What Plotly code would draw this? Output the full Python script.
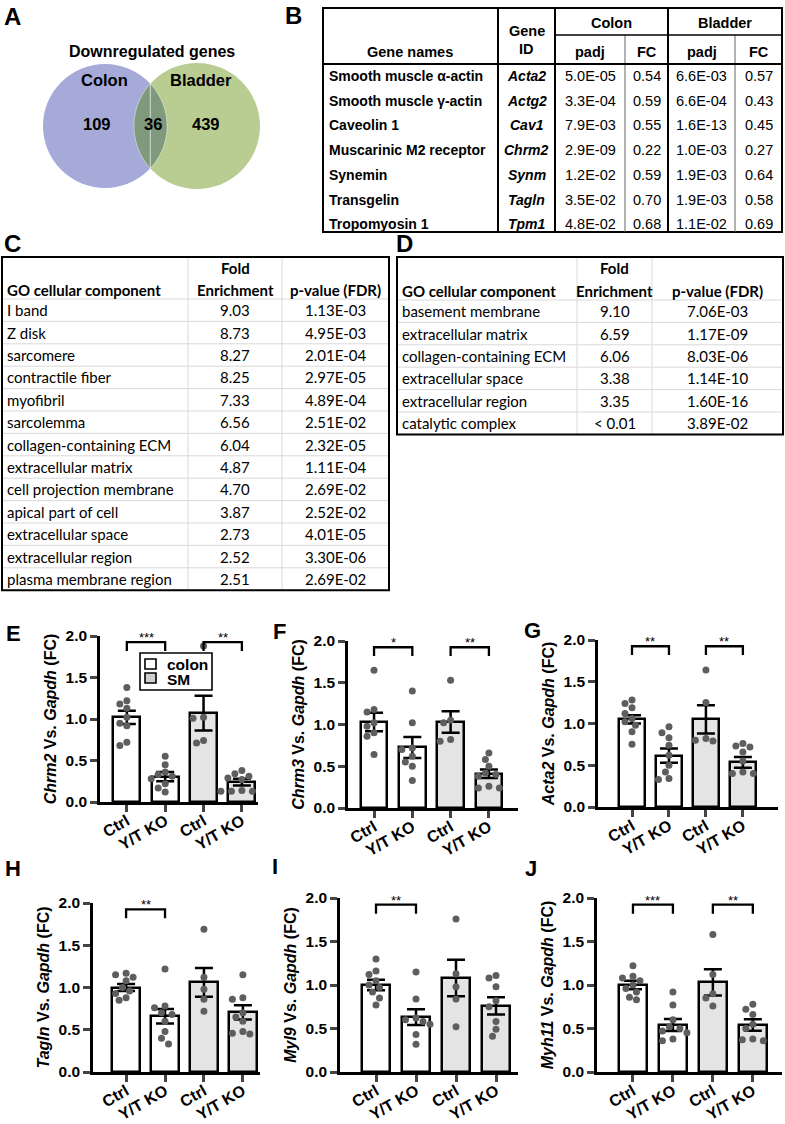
import math
import plotly.graph_objects as go

W, H = 785, 1124
ARIAL = "Liberation Sans, Arial, sans-serif"
CALIBRI = "Lato, sans-serif"

# ---------------- data ----------------
venn_title = "Downregulated genes"
venn_sets = ["Colon", "Bladder"]
venn_counts = [109, 36, 439]  # colon only, shared, bladder only

b_gene_names = ["Smooth muscle α-actin", "Smooth muscle γ-actin", "Caveolin 1",
                "Muscarinic M2 receptor", "Synemin", "Transgelin", "Tropomyosin 1"]
b_gene_ids = ["Acta2", "Actg2", "Cav1", "Chrm2", "Synm", "Tagln", "Tpm1"]
b_colon_padj = [5.0e-05, 3.3e-04, 7.9e-03, 2.9e-09, 1.2e-02, 3.5e-02, 4.8e-02]
b_colon_fc = [0.54, 0.59, 0.55, 0.22, 0.59, 0.70, 0.68]
b_bladder_padj = [6.6e-03, 6.6e-04, 1.6e-13, 1.0e-03, 1.9e-03, 1.9e-03, 1.1e-02]
b_bladder_fc = [0.57, 0.43, 0.45, 0.27, 0.64, 0.58, 0.69]

c_terms = ["I band", "Z disk", "sarcomere", "contractile fiber", "myofibril", "sarcolemma",
           "collagen-containing ECM", "extracellular matrix", "cell projection membrane",
           "apical part of cell", "extracellular space", "extracellular region",
           "plasma membrane region"]
c_fold = [9.03, 8.73, 8.27, 8.25, 7.33, 6.56, 6.04, 4.87, 4.70, 3.87, 2.73, 2.52, 2.51]
c_pval = [1.13e-03, 4.95e-03, 2.01e-04, 2.97e-05, 4.89e-04, 2.51e-02, 2.32e-05, 1.11e-04,
          2.69e-02, 2.52e-02, 4.01e-05, 3.30e-06, 2.69e-02]

d_terms = ["basement membrane", "extracellular matrix", "collagen-containing ECM",
           "extracellular space", "extracellular region", "catalytic complex"]
d_fold = [9.10, 6.59, 6.06, 3.38, 3.35, "< 0.01"]
d_pval = [7.06e-03, 1.17e-09, 8.03e-06, 1.14e-10, 1.60e-16, 3.89e-02]

bar_groups = ["Ctrl", "Y/T KO", "Ctrl", "Y/T KO"]
legend_names = ["colon", "SM"]

chrm2_mean = [1.02, 0.305, 1.07, 0.24]
chrm2_sem = [0.08, 0.055, 0.21, 0.04]
chrm2_points = [[1.38, 1.22, 1.18, 1.13, 1.02, 0.95, 0.92, 0.72, 0.68],
                [0.55, 0.45, 0.36, 0.33, 0.31, 0.28, 0.22, 0.17, 0.12],
                [1.88, 1.02, 1.01, 0.74, 0.71],
                [0.38, 0.34, 0.31, 0.29, 0.27, 0.14, 0.13, 0.13, 0.13]]
chrm2_sig = [("***", 0, 1), ("**", 2, 3)]

chrm3_mean = [1.03, 0.725, 1.03, 0.41]
chrm3_sem = [0.11, 0.125, 0.13, 0.05]
chrm3_points = [[1.65, 1.18, 1.15, 1.02, 0.98, 0.90, 0.86, 0.64],
                [1.40, 1.02, 0.72, 0.70, 0.62, 0.55, 0.50, 0.33],
                [1.53, 1.05, 1.02, 0.82, 0.80],
                [0.66, 0.58, 0.50, 0.42, 0.40, 0.38, 0.26, 0.24, 0.24]]
chrm3_sig = [("*", 0, 1), ("**", 2, 3)]

acta2_mean = [1.05, 0.615, 1.05, 0.535]
acta2_sem = [0.05, 0.085, 0.17, 0.065]
acta2_points = [[1.28, 1.24, 1.19, 1.12, 1.06, 1.02, 0.98, 0.90, 0.75],
                [0.96, 0.89, 0.83, 0.74, 0.62, 0.50, 0.42, 0.34, 0.33],
                [1.64, 1.25, 0.82, 0.80, 0.79],
                [0.76, 0.73, 0.72, 0.66, 0.55, 0.42, 0.40, 0.40]]
acta2_sig = [("**", 0, 1), ("**", 2, 3)]

tagln_mean = [1.00, 0.66, 1.06, 0.705]
tagln_sem = [0.04, 0.085, 0.17, 0.085]
tagln_points = [[1.17, 1.15, 1.12, 1.08, 1.00, 0.96, 0.93, 0.88, 0.85],
                [1.22, 0.78, 0.76, 0.70, 0.68, 0.60, 0.48, 0.40, 0.33],
                [1.69, 1.12, 0.98, 0.86, 0.72],
                [1.15, 0.88, 0.86, 0.70, 0.65, 0.60, 0.48, 0.46, 0.45]]
tagln_sig = [("**", 0, 1)]

myl9_mean = [1.00, 0.63, 1.08, 0.76]
myl9_sem = [0.06, 0.09, 0.21, 0.10]
myl9_points = [[1.30, 1.16, 1.12, 1.05, 1.00, 0.97, 0.92, 0.85, 0.77],
               [1.15, 0.84, 0.62, 0.60, 0.58, 0.55, 0.43, 0.32],
               [1.76, 1.13, 0.98, 0.84, 0.52],
               [1.11, 1.08, 0.98, 0.82, 0.75, 0.58, 0.49, 0.41]]
myl9_sig = [("**", 0, 1)]

myh11_mean = [1.00, 0.54, 1.03, 0.54]
myh11_sem = [0.05, 0.07, 0.15, 0.065]
myh11_points = [[1.22, 1.10, 1.08, 1.05, 1.00, 0.96, 0.92, 0.86, 0.83],
                [0.92, 0.77, 0.60, 0.52, 0.50, 0.47, 0.45, 0.38, 0.36],
                [1.58, 1.12, 0.90, 0.85, 0.76],
                [0.78, 0.72, 0.66, 0.55, 0.50, 0.38, 0.37, 0.36]]
myh11_sig = [("***", 0, 1), ("**", 2, 3)]

# ---------------- styles ----------------
COLON_FILL = "white"
SM_FILL = "#E4E4E4"
DOT = "#5E5E5E"
VENN_COLON = "#A5AAD9"
VENN_BLADDER = "#B9CD93"
VENN_OVERLAP = "#7E997B"
GRID = "#D9D9D9"


def X(x):
    return x / W


def Y(y):
    return 1 - y / H


annotations = []
shapes = []


def txt(x, y, s, size, family=ARIAL, align="center", color="black"):
    annotations.append(dict(x=X(x), y=Y(y), xref="paper", yref="paper", text=s,
                            showarrow=False, xanchor=align, yanchor="middle",
                            font=dict(family=family, size=size, color=color)))


def hline(x0, x1, y, w=1, color="black"):
    shapes.append(dict(type="line", xref="paper", yref="paper", x0=X(x0), x1=X(x1),
                       y0=Y(y), y1=Y(y), line=dict(color=color, width=w)))


def vline(x, y0, y1, w=1, color="black"):
    shapes.append(dict(type="line", xref="paper", yref="paper", x0=X(x), x1=X(x),
                       y0=Y(y0), y1=Y(y1), line=dict(color=color, width=w)))


def rect(x0, y0, x1, y1, w=1, color="black", fill="rgba(0,0,0,0)"):
    shapes.append(dict(type="rect", xref="paper", yref="paper", x0=X(x0), x1=X(x1),
                       y0=Y(y0), y1=Y(y1), line=dict(color=color, width=w), fillcolor=fill))


fig = go.Figure()

# ---------------- panel letters ----------------
for lab, lx, ly, sz in [("A", 12, 17, 24), ("B", 293, 16, 24), ("C", 12, 244, 24),
                        ("D", 404, 244, 24), ("E", 13, 633, 22), ("F", 279, 631, 22),
                        ("G", 532, 630, 22), ("H", 13, 868, 22), ("I", 275, 866, 22),
                        ("J", 531, 868, 22)]:
    txt(lx, ly, f"<b>{lab}</b>", sz)

# ---------------- Panel A: Venn ----------------
cc, rc = (105, 126), 62
cb, rb = (197, 126), 63
shapes.append(dict(type="circle", xref="paper", yref="paper", x0=X(cc[0] - rc), x1=X(cc[0] + rc),
                   y0=Y(cc[1] + rc), y1=Y(cc[1] - rc), fillcolor=VENN_COLON, line=dict(width=0)))
shapes.append(dict(type="circle", xref="paper", yref="paper", x0=X(cb[0] - rb), x1=X(cb[0] + rb),
                   y0=Y(cb[1] + rb), y1=Y(cb[1] - rb), fillcolor=VENN_BLADDER, line=dict(width=0)))
dd = cb[0] - cc[0]
aa = (rc ** 2 - rb ** 2 + dd ** 2) / (2 * dd)
hh = math.sqrt(rc ** 2 - aa ** 2)
t1 = math.atan2(hh, aa)
t2 = math.atan2(hh, dd - aa)
pts = []
for k in range(41):
    t = -t1 + 2 * t1 * k / 40
    pts.append((cc[0] + rc * math.cos(t), cc[1] + rc * math.sin(t)))
for k in range(41):
    t = math.pi - t2 + 2 * t2 * k / 40
    pts.append((cb[0] + rb * math.cos(t), cb[1] - rb * math.sin(t)))
path = "M " + " L ".join(f"{X(px_):.5f},{Y(py_):.5f}" for px_, py_ in pts) + " Z"
shapes.append(dict(type="path", xref="paper", yref="paper", path=path, fillcolor=VENN_OVERLAP,
                   line=dict(width=0.8, color="rgba(255,255,255,0.5)")))
txt(152, 52, f"<b>{venn_title}</b>", 16)
txt(104, 80, f"<b>{venn_sets[0]}</b>", 16.5)
txt(201, 80, f"<b>{venn_sets[1]}</b>", 16.5)
txt(97, 124, f"<b>{venn_counts[0]}</b>", 16.5)
txt(152.5, 124, f"<b>{venn_counts[1]}</b>", 16.5)
txt(206, 124, f"<b>{venn_counts[2]}</b>", 16.5)

# ---------------- Panel B: table ----------------
BX = [323, 498, 555, 625, 668, 735, 782]
B_TOP, B_SUB, B_HEAD, B_BOT = 8, 35, 64, 232
rect(BX[0], B_TOP, BX[-1], B_BOT, w=2)
vline(BX[1], B_TOP, B_BOT, w=2)
vline(BX[2], B_TOP, B_BOT, w=2)
vline(BX[4], B_TOP, B_BOT, w=2)
vline(BX[3], B_SUB, B_BOT, w=1, color="#666")
vline(BX[5], B_SUB, B_BOT, w=1, color="#666")
hline(BX[0], BX[-1], B_HEAD, w=2)
hline(BX[2], BX[-1], B_SUB, w=1.3)
BFS = 14.5
txt(410, 52, "<b>Gene names</b>", BFS)
txt((BX[1] + BX[2]) / 2, 31, "<b>Gene</b>", BFS)
txt((BX[1] + BX[2]) / 2, 49, "<b>ID</b>", BFS)
txt((BX[2] + BX[4]) / 2, 23, "<b>Colon</b>", BFS)
txt((BX[4] + BX[6]) / 2, 23, "<b>Bladder</b>", BFS)
for j, lab in zip(range(2, 6), ["padj", "FC", "padj", "FC"]):
    txt((BX[j] + BX[j + 1]) / 2, 52, f"<b>{lab}</b>", BFS)
for i in range(len(b_gene_names)):
    yy = 76 + 24.7 * i
    txt(327, yy, f"<b>{b_gene_names[i]}</b>", 14, align="left")
    txt((BX[1] + BX[2]) / 2, yy, f"<b><i>{b_gene_ids[i]}</i></b>", 14)
    txt((BX[2] + BX[3]) / 2, yy, f"{b_colon_padj[i]:.1E}", BFS)
    txt((BX[3] + BX[4]) / 2, yy, f"{b_colon_fc[i]:.2f}", BFS)
    txt((BX[4] + BX[5]) / 2, yy, f"{b_bladder_padj[i]:.1E}", BFS)
    txt((BX[5] + BX[6]) / 2, yy, f"{b_bladder_fc[i]:.2f}", BFS)


# ---------------- Panels C & D: GO tables ----------------
def go_table(xs, top, head, rowh, terms, folds, pvals):
    n = len(terms)
    bot = head + rowh * n
    for k in range(n):
        hline(xs[0], xs[-1], head + rowh * k, w=1, color=GRID)
    vline(xs[1], top, bot, w=1, color=GRID)
    vline(xs[2], top, bot, w=1, color=GRID)
    rect(xs[0], top, xs[-1], bot, w=2)
    fs = 15
    c1 = (xs[1] + xs[2]) / 2
    c2 = (xs[2] + xs[3]) / 2
    txt(c1, top + 11, "<b>Fold</b>", fs, family=CALIBRI)
    txt(c1, head - 9, "<b>Enrichment</b>", fs, family=CALIBRI)
    txt(xs[0] + 3, head - 9, "<b>GO cellular component</b>", fs, family=CALIBRI, align="left")
    txt(c2, head - 9, "<b>p-value (FDR)</b>", fs, family=CALIBRI)
    for k in range(n):
        yy = head + rowh * (k + 0.5)
        f = folds[k]
        ftxt = f"{f:.2f}" if isinstance(f, float) else f
        txt(xs[0] + 3, yy, terms[k], fs, family=CALIBRI, align="left")
        txt(c1, yy, ftxt, fs, family=CALIBRI)
        txt(c2, yy, f"{pvals[k]:.2E}", fs, family=CALIBRI)


go_table([2, 188, 282, 389], 257, 299, 22.4, c_terms, c_fold, c_pval)
go_table([397, 577, 652, 783], 257, 300, 22.4, d_terms, d_fold, d_pval)


# ---------------- Panels E-J: bar charts ----------------
def swarm(vals, ux, uy, d=7.0):
    order = sorted(range(len(vals)), key=lambda k: -vals[k])
    placed = []
    offs = [0.0] * len(vals)
    step = 0.5 * d
    cands = [0.0]
    for m in range(1, 10):
        cands += [-m * step, m * step]
    for k in order:
        yy = vals[k] * uy
        chosen = 0.0
        for c in cands:
            if all((c - a) ** 2 + (yy - b) ** 2 >= (d * 1.05) ** 2 for a, b in placed):
                chosen = c
                break
        placed.append((chosen, yy))
        offs[k] = chosen / ux
    return offs


panels = [
    ("Chrm2", chrm2_mean, chrm2_sem, chrm2_points, chrm2_sig, (100, 258, 636, 802), (-0.70, 3.42)),
    ("Chrm3", chrm3_mean, chrm3_sem, chrm3_points, chrm3_sig, (348, 518, 641, 808), (-0.68, 3.76)),
    ("Acta2", acta2_mean, acta2_sem, acta2_points, acta2_sig, (598, 778, 640, 807), (-0.92, 3.95)),
    ("Tagln", tagln_mean, tagln_sem, tagln_points, tagln_sig, (93, 260, 903, 1072), (-0.85, 3.44)),
    ("Myl9", myl9_mean, myl9_sem, myl9_points, myl9_sig, (340, 518, 898, 1072), (-0.90, 3.55)),
    ("Myh11", myh11_mean, myh11_sem, myh11_points, myh11_sig, (597, 782, 898, 1072), (-0.90, 3.73)),
]

layout_axes = {}
for p, (gene, mean, sem, points, sig, box, xr) in enumerate(panels, start=1):
    x0, x1, ytop, ybot = box
    xa, ya = f"x{p}", f"y{p}"
    ux = (x1 - x0) / (xr[1] - xr[0])
    uy = (ybot - ytop) / 2.0
    for idx, fill in [((0, 1), COLON_FILL), ((2, 3), SM_FILL)]:
        fig.add_trace(go.Bar(
            x=list(idx), y=[mean[i] for i in idx], width=0.7,
            marker=dict(color=fill, line=dict(color="black", width=2.5)),
            error_y=dict(type="data", array=[sem[i] for i in idx], color="black",
                         thickness=2.5, width=9),
            xaxis=xa, yaxis=ya, showlegend=False, hoverinfo="skip"))
    for g in range(4):
        offs = swarm(points[g], ux, uy)
        fig.add_trace(go.Scatter(
            x=[g + o for o in offs], y=points[g], mode="markers",
            marker=dict(color=DOT, size=7, line=dict(width=0)),
            xaxis=xa, yaxis=ya, showlegend=False, cliponaxis=False, hoverinfo="skip"))
    for stars, a, b in sig:
        shapes.append(dict(type="path", xref=xa, yref=ya,
                           path=f"M {a},1.82 L {a},1.925 L {b},1.925 L {b},1.82",
                           line=dict(color="black", width=2.3)))
        annotations.append(dict(x=(a + b) / 2, y=1.925, xref=xa, yref=ya, text=stars,
                                showarrow=False, yanchor="bottom", yshift=-5,
                                font=dict(family=ARIAL, size=13, color="black")))
    sfx = "" if p == 1 else str(p)
    layout_axes[f"xaxis{sfx}"] = dict(
        domain=[X(x0), X(x1)], range=list(xr), anchor=ya, tickmode="array",
        tickvals=[0, 1, 2, 3], ticktext=[f"<b>{g}</b>" for g in bar_groups],
        tickangle=-30, ticks="outside", ticklen=7, tickwidth=2.5, showline=True,
        linewidth=2.5, linecolor="black", showgrid=False, zeroline=False,
        ticklabelstandoff=-6,
        tickfont=dict(family=ARIAL, size=16, color="black"), automargin=False, fixedrange=True)
    layout_axes[f"yaxis{sfx}"] = dict(
        domain=[Y(ybot), Y(ytop)], range=[0, 2], anchor=xa, tickmode="array",
        tickvals=[0, 0.5, 1.0, 1.5, 2.0],
        ticktext=[f"<b>{v:.1f}</b>" for v in [0, 0.5, 1.0, 1.5, 2.0]],
        ticks="outside", ticklen=7, tickwidth=2.5, showline=True, linewidth=2.5,
        linecolor="black", showgrid=False, zeroline=False,
        tickfont=dict(family=ARIAL, size=15.5, color="black"),
        title=dict(text=f"<b><i>{gene}</i> Vs. <i>Gapdh</i> (FC)</b>", standoff=5,
                   font=dict(family=ARIAL, size=16, color="black")),
        automargin=False, fixedrange=True)

# legend for panel E
rect(140, 653, 212, 690, w=1.6, fill="white")
rect(145, 659, 156, 669, w=1.6, fill=COLON_FILL)
rect(145, 673, 156, 683, w=1.6, fill="#D0D0D0")
txt(165, 664, f"<b>{legend_names[0]}</b>", 15.5, align="left")
txt(165, 679, f"<b>{legend_names[1]}</b>", 15.5, align="left")

fig.update_layout(
    width=W, height=H, margin=dict(l=0, r=0, t=0, b=0), autosize=False,
    paper_bgcolor="white", plot_bgcolor="rgba(0,0,0,0)", showlegend=False,
    bargap=0, shapes=shapes, annotations=annotations, **layout_axes)

fig.write_html("out.html", config={"displayModeBar": False},
               post_script="document.body.style.margin='0';document.body.style.overflow='hidden';")
